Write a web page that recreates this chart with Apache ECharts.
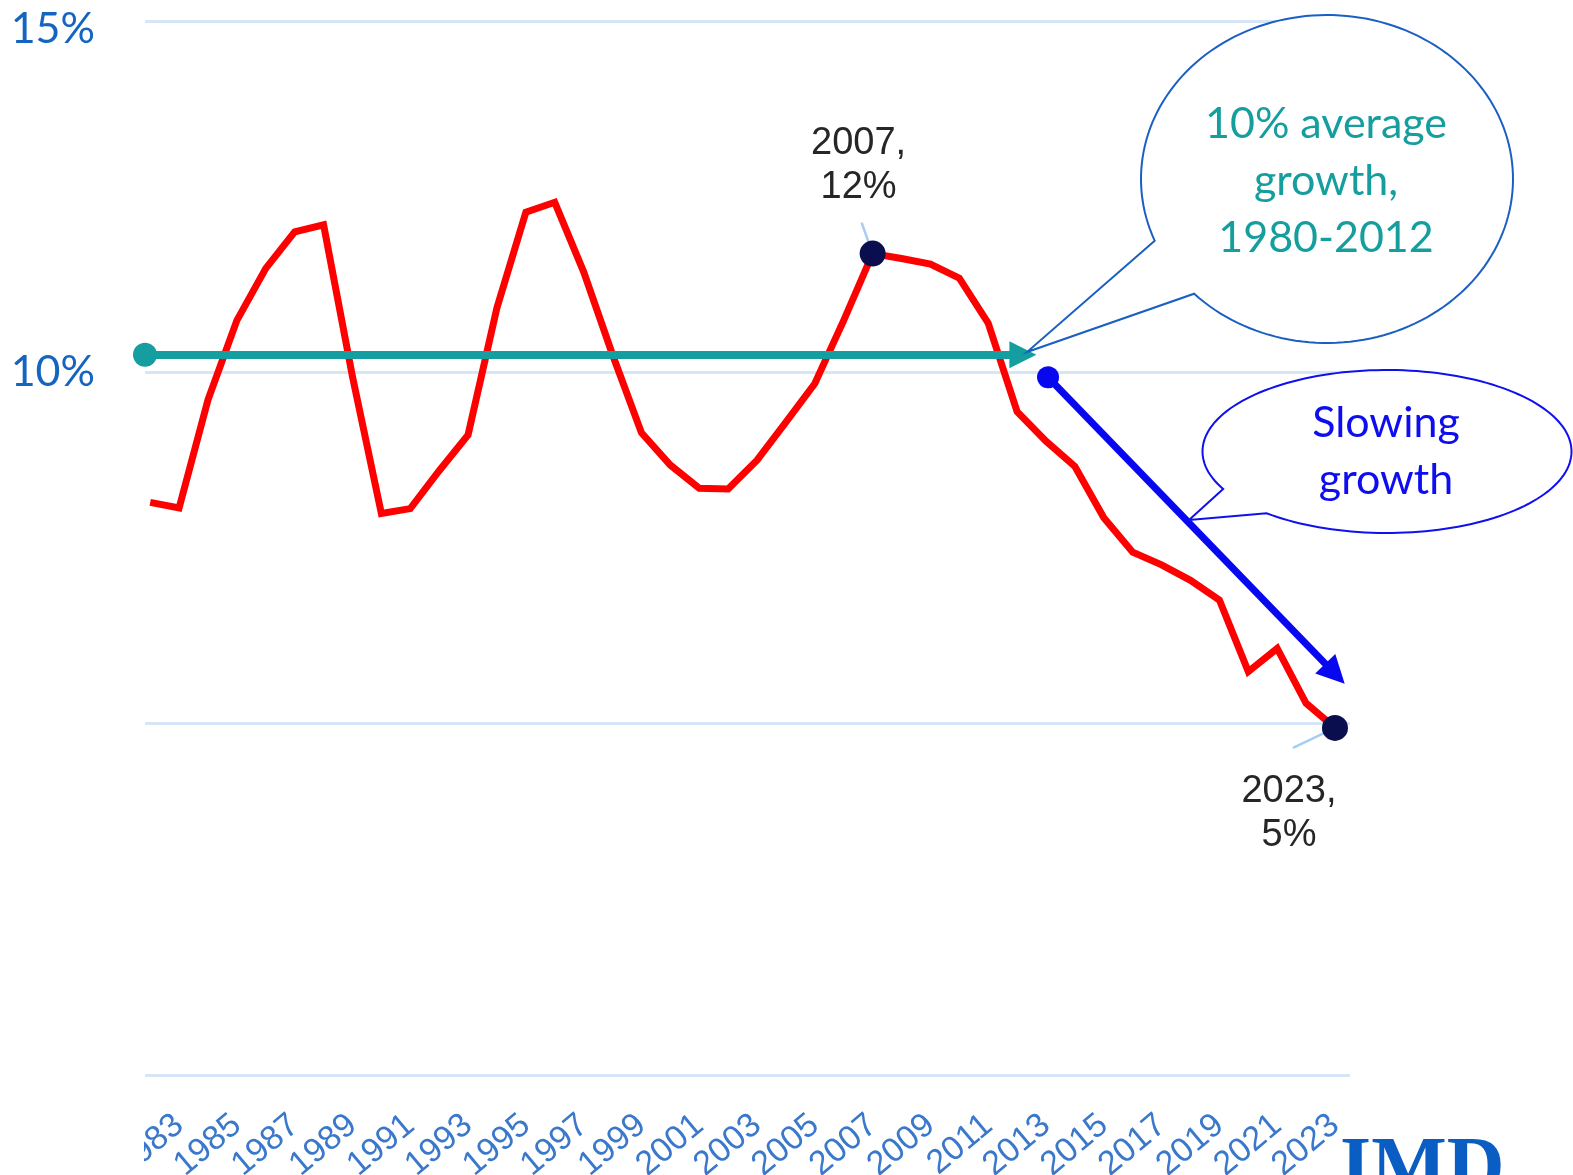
<!DOCTYPE html>
<html><head><meta charset="utf-8">
<script src="https://cdn.jsdelivr.net/npm/echarts@6/dist/echarts.min.js"></script>
<style>html,body{margin:0;padding:0;background:#fff}#c{width:1573px;height:1175px}</style>
</head><body><div id="c"></div>
<script>
// ---- data ----
const years = [1982,1983,1984,1985,1986,1987,1988,1989,1990,1991,1992,1993,1994,1995,1996,1997,1998,1999,2000,2001,2002,2003,2004,2005,2006,2007,2008,2009,2010,2011,2012,2013,2014,2015,2016,2017,2018,2019,2020,2021,2022,2023];
const growth = [8.15,8.07,9.61,10.74,11.48,12.00,12.10,9.94,7.99,8.06,8.60,9.11,10.92,12.28,12.42,11.43,10.25,9.14,8.68,8.35,8.34,8.75,9.29,9.84,10.74,11.69,11.62,11.54,11.34,10.70,9.44,9.02,8.66,7.93,7.44,7.26,7.04,6.76,5.74,6.07,5.29,4.94];
const yearLabels = [1983,1985,1987,1989,1991,1993,1995,1997,1999,2001,2003,2005,2007,2009,2011,2013,2015,2017,2019,2021,2023];
const yTickLabels = {15:'15%', 10:'10%'};
const highlightYears = [2007, 2023];
const highlightLabels = ['2007,\n12%', '2023,\n5%'];
const avgArrow = {from:[1981.82, 10.25], to:[2012.2, 10.25]};
const slowArrow = {from:[2013.07, 9.93], to:[2023.0, 5.71]};
const bubble1Text = '10% average\ngrowth,\n1980-2012';
const bubble2Text = 'Slowing\ngrowth';

const TEAL = '#149ea0', BLUE = '#0808f0', NAVY = '#0a0e4e';

const chart = echarts.init(document.getElementById('c'), null, {renderer:'canvas'});

const hiData = highlightYears.map((y, i) => ({
  value: [y, growth[years.indexOf(y)]],
  label: { offset: i === 0 ? [-14, -88] : [-46, 86] }
}));

chart.setOption({
  animation: false,
  backgroundColor: '#ffffff',
  grid: { left: 145, right: 223, top: 21, bottom: 100, containLabel: false, outerBoundsMode: 'none' },
  xAxis: {
    type: 'value', min: 1981.82, max: 2023.52,
    axisLine: { show: false }, axisTick: { show: false }, splitLine: { show: false },
    axisLabel: {
      customValues: yearLabels, rotate: 40, margin: 46,
      showMinLabel: true, showMaxLabel: true, hideOverlap: false,
      fontFamily: 'Liberation Sans', fontSize: 34, color: '#3a78cc',
      formatter: v => String(v)
    }
  },
  yAxis: {
    type: 'value', min: 0, max: 15, interval: 5,
    axisLine: { show: false }, axisTick: { show: false },
    splitLine: { show: true, lineStyle: { color: '#d7e6f7', width: 3 } },
    axisLabel: {
      margin: 50, fontFamily: 'Lato', fontSize: 43, color: '#1565c0',
      formatter: v => v === 15 ? '{t|' + yTickLabels[15] + '}' : (yTickLabels[v] || ''),
      rich: { t: { fontFamily: 'Lato', fontSize: 43, color: '#1565c0', padding: [16, 0, 0, 0] } }
    }
  },
  series: [
    {
      type: 'line', z: 2, clip: true,
      data: years.map((y, i) => [y, growth[i]]),
      showSymbol: false, symbol: 'none',
      lineStyle: { color: '#ff0000', width: 7, join: 'miter' }
    },
    {
      type: 'line', z: 4, data: [], silent: true,
      markLine: {
        silent: true, animation: false,
        symbol: ['circle', 'triangle'],
        label: { show: false },
        emphasis: { disabled: true },
        data: [
          [ { coord: avgArrow.from, symbolSize: 24, lineStyle: { color: TEAL, width: 8, type: 'solid' }, itemStyle: { color: TEAL } },
            { coord: avgArrow.to, symbolSize: 27, itemStyle: { color: TEAL } } ],
          [ { coord: slowArrow.from, symbolSize: 22, lineStyle: { color: BLUE, width: 7, type: 'solid' }, itemStyle: { color: BLUE } },
            { coord: slowArrow.to, symbolSize: 28, itemStyle: { color: BLUE } } ]
        ]
      }
    },
    {
      type: 'scatter', z: 5, silent: true,
      data: hiData, symbolSize: 26,
      itemStyle: { color: NAVY, opacity: 1 },
      label: {
        show: true, position: 'inside',
        formatter: p => highlightLabels[p.dataIndex],
        fontFamily: 'Liberation Sans', fontSize: 38, lineHeight: 44,
        color: '#262626', align: 'center', verticalAlign: 'middle'
      }
    }
  ]
});

function bubblePoints(cx, cy, rx, ry, b1, b2, tip) {
  const ang = p => Math.atan2((p[1] - cy) / ry, (p[0] - cx) / rx);
  const a1 = ang(b1), a2 = ang(b2);
  let span = a2 - a1;
  while (span <= 0) span += 2 * Math.PI;
  if (span < Math.PI) span -= 2 * Math.PI;
  const pts = [];
  const N = 160;
  for (let i = 0; i <= N; i++) {
    const a = a1 + span * i / N;
    pts.push([cx + rx * Math.cos(a), cy + ry * Math.sin(a)]);
  }
  pts.push(tip);
  return pts;
}

const leaderOffsets = [[-11, -31], [-42, 20]];
const graphics = [];
highlightYears.forEach((y, i) => {
  const p = chart.convertToPixel({ gridIndex: 0 }, [y, growth[years.indexOf(y)]]);
  graphics.push({
    type: 'line', z: 1, silent: true,
    shape: { x1: p[0], y1: p[1], x2: p[0] + leaderOffsets[i][0], y2: p[1] + leaderOffsets[i][1] },
    style: { stroke: '#a6cdf5', lineWidth: 2.5 }
  });
});
graphics.push(
  { type: 'polygon', z: 10, silent: true,
    shape: { points: bubblePoints(1327, 179, 186, 164, [1157, 240], [1195, 293], [1027, 352]) },
    style: { fill: '#ffffff', stroke: '#1a5fc4', lineWidth: 2 } },
  { type: 'text', z: 11, silent: true, x: 1326, y: 181,
    style: { text: bubble1Text, fill: '#169e9e', font: '43px Lato', lineHeight: 57, align: 'center', verticalAlign: 'middle' } },
  { type: 'polygon', z: 10, silent: true,
    shape: { points: bubblePoints(1387, 451.5, 184.5, 81.5, [1223, 489], [1267, 513], [1189, 520]) },
    style: { fill: '#ffffff', stroke: '#1010ee', lineWidth: 2 } },
  { type: 'text', z: 11, silent: true, x: 1386, y: 452,
    style: { text: bubble2Text, fill: '#0d0df0', font: '43px Lato', lineHeight: 57, align: 'center', verticalAlign: 'middle' } },
  { type: 'rect', z: 100, silent: true, shape: { x: 0, y: 1080, width: 144, height: 95 }, style: { fill: '#ffffff' } },
  { type: 'text', z: 20, silent: true, x: 1340, y: 1131,
    style: { text: 'IMD', fill: '#0a5dc2', font: 'bold 80px "Liberation Serif"', align: 'left', verticalAlign: 'top' } }
);
chart.setOption({ graphic: graphics });
</script>
</body></html>
